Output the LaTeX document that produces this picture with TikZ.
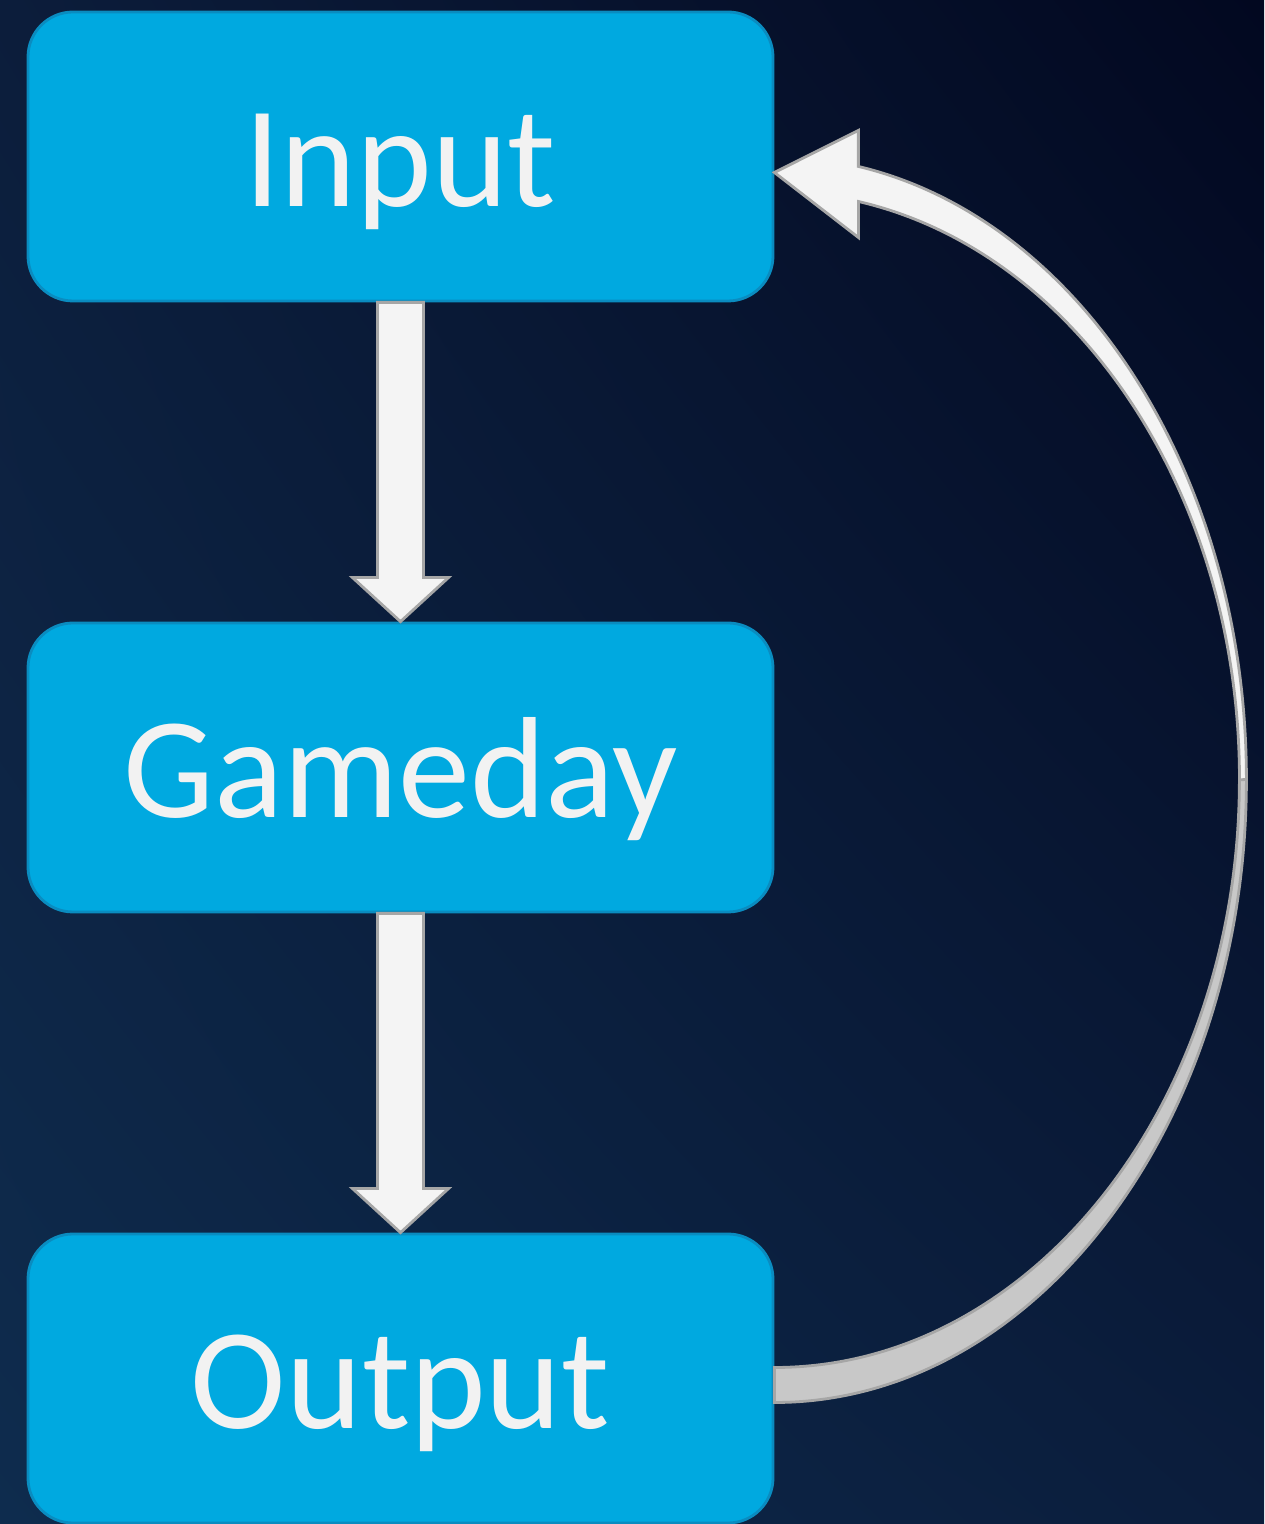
\documentclass[tikz,border=0pt]{standalone}
\usepackage{fontspec}
\setmainfont{Carlito}
\usetikzlibrary{calc,shadings}
\definecolor{bgtl}{HTML}{0C1D3B}
\definecolor{bgtr}{HTML}{020820}
\definecolor{bgbl}{HTML}{0E2C4E}
\definecolor{bgbr}{HTML}{0B1D3C}
\definecolor{boxfill}{HTML}{00A9E0}
\definecolor{boxline}{HTML}{0A8CC0}
\definecolor{arrowfill}{HTML}{F4F4F4}
\definecolor{arrowback}{HTML}{C8C8C8}
\definecolor{arrowline}{HTML}{A6A6A6}
\definecolor{textfill}{HTML}{F2F2F2}
\tikzset{
    stagebox/.style={draw=boxline, line width=0.8pt, fill=boxfill, rounded corners=0.45cm,
        minimum width=7.45cm, minimum height=2.89cm, text=textfill,
        font=\fontsize{41}{41}\selectfont, text height=1.0cm, text depth=0pt},
    blockarrow/.style={draw=arrowline, line width=0.8pt, fill=arrowfill, line join=miter}
}
\newcommand{\stagearrow}[2]{%
    \draw[blockarrow] ($(#1.south)+(-0.23,0)$) -- ($(#1.south)+(0.23,0)$)
        -- ($(#2.north)+(0.23,0.44)$) -- ($(#2.north)+(0.48,0.44)$) -- (#2.north)
        -- ($(#2.north)+(-0.48,0.44)$) -- ($(#2.north)+(-0.23,0.44)$) -- cycle;}
\begin{document}
\begin{tikzpicture}
    \shade[upper left=bgtl, upper right=bgtr, lower left=bgbl, lower right=bgbr]
        (0,0) rectangle (12.64,15.24);
    \useasboundingbox (0,0) rectangle (12.64,15.24);
    % stages
    \node[stagebox] (in) at (4.005,13.675) {Input};
    \node[stagebox] (game) at (4.005,7.565) {Gameday};
    \node[stagebox] (out) at (4.005,1.455) {Output};
    % straight arrows
    \stagearrow{in}{game}
    \stagearrow{game}{out}
    % loop back
    \coordinate (loopc) at ($(out.east)!0.5!(in.east)+(0,-0.12)$);
    \draw[blockarrow, fill=arrowback] ($(loopc)+(0,-6.23)$)
        arc[start angle=-90, end angle=0, x radius=4.72cm, y radius=6.23cm]
        -- ($(loopc)+(4.65,0)$)
        arc[start angle=0, end angle=-90, x radius=4.65cm, y radius=5.88cm] -- cycle;
    \draw[blockarrow] ($(loopc)+(4.72,0)$)
        arc[start angle=0, end angle=79.75, x radius=4.72cm, y radius=6.23cm]
        -- ++(0,0.36) -- ($(in.east)+(0,-0.16)$) -- ++(0.84,-0.65)
        -- ($(loopc)+(0.84,5.78)$)
        arc[start angle=79.6, end angle=0, x radius=4.65cm, y radius=5.88cm] -- cycle;
\end{tikzpicture}
\end{document}
